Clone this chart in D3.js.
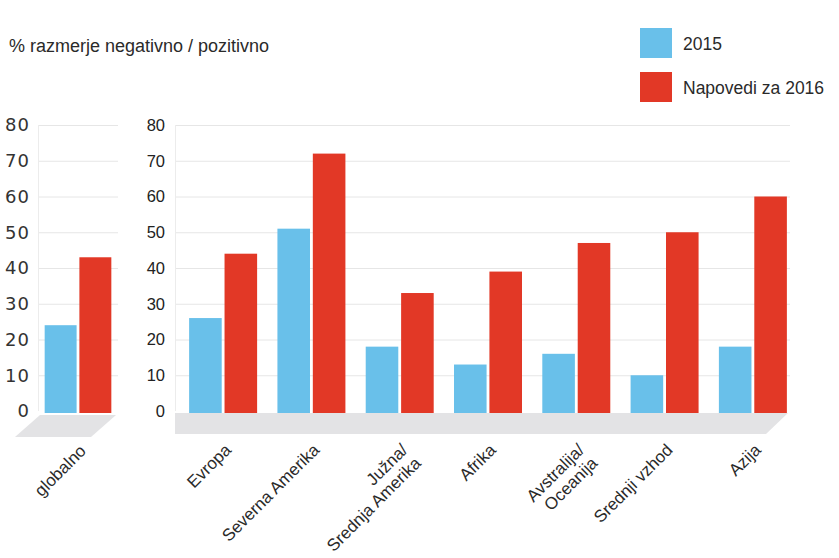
<!DOCTYPE html>
<html>
<head>
<meta charset="utf-8">
<script src="https://cdn.jsdelivr.net/npm/d3@7"></script>
<style>
  body { margin: 0; background: #fff; }
  text { font-family: "Liberation Sans", Arial, sans-serif; fill: #2a2a2a; }
  .grid line { stroke: #e6e6e6; }
  .grid .domain { display: none; }
  .lab-big text { font-family: "DejaVu Sans", sans-serif; font-size: 18px; letter-spacing: 1px; fill: #333; }
  .lab-small text { font-size: 16.5px; fill: #222; }
</style>
</head>
<body>
<svg id="chart" width="839" height="558"></svg>
<script>
// data
const seriesNames = ['2015', 'Napovedi za 2016'];
const globalCat = ['globalno'];
const global2015 = [24];
const global2016 = [43];
const regions = ['Evropa', 'Severna Amerika', 'Južna/|Srednja Amerika', 'Afrika',
                 'Avstralija/|Oceanija', 'Srednji vzhod', 'Azija'];
const vals2015 = [26, 51, 18, 13, 16, 10, 18];
const vals2016 = [44, 72, 33, 39, 47, 50, 60];
const yTicks = [0, 10, 20, 30, 40, 50, 60, 70, 80];

const colors = ['#69c0ea', '#e23826'];

const svg = d3.select('#chart');

// y scale shared by both panels
const y = d3.scaleLinear().domain([0, 80]).range([411, 125]);

// subtitle
svg.append('text')
  .attr('x', 9).attr('y', 52)
  .style('font-size', '18px')
  .text('% razmerje negativno / pozitivno');

// legend
const legend = svg.append('g');
seriesNames.forEach((s, i) => {
  legend.append('rect')
    .attr('x', 640).attr('y', 28 + i * 44)
    .attr('width', 32).attr('height', 30)
    .attr('fill', colors[i]);
  legend.append('text')
    .attr('x', 683).attr('y', 50 + i * 44)
    .style('font-size', '17.5px')
    .text(s);
});

function panel(opts) {
  const g = svg.append('g');
  const [x0, x1] = opts.range;

  // floor (gray slab under the bars)
  g.append('path')
    .attr('d', opts.floor)
    .attr('fill', '#e3e3e5');

  // gridlines + labels
  const axis = d3.axisLeft(y)
    .tickValues(yTicks)
    .tickSize(-(opts.gridEnd - x0))
    .tickPadding(opts.pad);
  const ag = g.append('g')
    .attr('class', 'grid ' + opts.labClass)
    .attr('transform', `translate(${x0},0)`)
    .call(axis);
  ag.select('.tick:first-of-type line').remove();

  // light vertical axis
  g.append('line')
    .attr('x1', x0 + 0.5).attr('x2', x0 + 0.5)
    .attr('y1', y(80)).attr('y2', y(0))
    .attr('stroke', '#ececec');

  const xb = d3.scaleBand().domain(opts.cats).range([x0, x1])
    .paddingInner(opts.pi).paddingOuter(opts.po);
  const xs = d3.scaleBand().domain(seriesNames).range([0, xb.bandwidth()])
    .paddingInner(0.08);

  const rows = opts.cats.map((c, i) => ({cat: c, v: [opts.a[i], opts.b[i]]}));
  const grp = g.selectAll('.grp').data(rows).join('g')
    .attr('transform', d => `translate(${xb(d.cat)},0)`);
  grp.selectAll('rect')
    .data(d => d.v.map((v, i) => ({s: seriesNames[i], v, i})))
    .join('rect')
      .attr('x', d => xs(d.s))
      .attr('width', xs.bandwidth())
      .attr('y', d => y(d.v))
      .attr('height', d => y(0) - y(d.v) + 2)
      .attr('fill', d => colors[d.i]);

  // rotated category labels
  rows.forEach(r => {
    const cx = xb(r.cat) + xb.bandwidth() / 2;
    const t = g.append('text')
      .attr('transform', `translate(${cx + 9},${opts.labY}) rotate(-45)`)
      .attr('text-anchor', 'end')
      .style('font-size', '17px');
    const lines = r.cat.split('|');
    lines.forEach((ln, k) => {
      t.append('tspan').attr('x', 0).attr('dy', k === 0 ? 0 : '1.1em').text(ln);
    });
  });
}

// left panel: global
panel({
  cats: globalCat, a: global2015, b: global2016,
  range: [38, 118], gridEnd: 118, pi: 0, po: 0.1, pad: 8,
  labClass: 'lab-big', labY: 452,
  floor: 'M40,415 L116,415 L91,437 L15,437 Z'
});

// right panel: regions
panel({
  cats: regions, a: vals2015, b: vals2016,
  range: [175, 801], gridEnd: 790, pi: 0.23, po: 0.16, pad: 10,
  labClass: 'lab-small', labY: 451,
  floor: 'M175,413 L788,413 L766,434 L175,434 Z'
});
</script>
</body>
</html>
